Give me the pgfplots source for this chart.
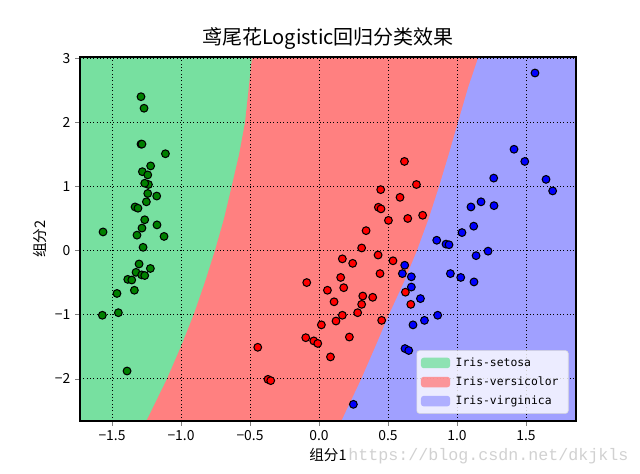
\documentclass[border=0pt]{standalone}
\usepackage{fontspec}
\setmainfont{Noto Sans CJK SC}
\newfontfamily\wmfont{Liberation Mono}
\newfontfamily\legfont{DejaVu Sans Mono}
\usepackage{pgfplots}
\usepackage{pgfplotstable}
\pgfplotsset{compat=1.18}
\definecolor{lg}{HTML}{77E0A0}
\definecolor{lr}{HTML}{FF8080}
\definecolor{lb}{HTML}{A0A0FF}
\definecolor{dg}{HTML}{008000}

\pgfplotstableread{
x y
-1.290 2.40
-1.268 2.22
-1.290 1.66
-1.283 1.66
-1.113 1.51
-1.220 1.32
-1.280 1.23
-1.241 1.18
-1.236 1.03
-1.263 1.05
-1.241 0.89
-1.176 0.85
-1.251 0.76
-1.333 0.68
-1.312 0.66
-1.263 0.48
-1.174 0.40
-1.283 0.35
-1.565 0.29
-1.319 0.24
-1.123 0.22
-1.275 0.05
-1.304 -0.21
-1.222 -0.28
-1.326 -0.34
-1.285 -0.38
-1.263 -0.39
-1.386 -0.45
-1.357 -0.46
-1.464 -0.67
-1.338 -0.62
-1.454 -0.97
-1.570 -1.01
-1.391 -1.88
}\setosa

\pgfplotstableread{
x y
0.619 1.39
0.706 1.03
0.447 0.95
0.587 0.83
0.430 0.675
0.449 0.65
0.503 0.47
0.643 0.50
0.751 0.55
0.341 0.31
0.309 0.04
0.169 -0.13
0.244 -0.20
0.428 -0.07
0.536 -0.16
0.157 -0.42
0.442 -0.36
-0.089 -0.50
0.061 -0.62
0.179 -0.58
0.317 -0.71
0.389 -0.73
0.109 -0.80
0.626 -0.65
0.309 -0.84
0.665 -0.84
0.280 -0.97
0.169 -1.01
0.123 -1.10
0.454 -1.09
0.017 -1.16
0.220 -1.35
-0.096 -1.36
-0.038 -1.41
-0.009 -1.45
0.083 -1.66
-0.444 -1.51
-0.370 -2.01
-0.350 -2.03
}\versicolor

\pgfplotstableread{
x y
1.565 2.77
1.413 1.58
1.491 1.39
1.266 1.13
1.645 1.11
1.693 0.93
1.174 0.76
1.101 0.68
1.268 0.70
1.121 0.38
1.036 0.28
0.853 0.16
0.920 0.10
0.942 0.09
1.225 -0.01
1.138 -0.08
0.621 -0.23
0.604 -0.36
0.669 -0.41
0.952 -0.36
1.027 -0.42
1.123 -0.49
0.669 -0.57
0.735 -0.75
0.860 -1.01
0.764 -1.09
0.681 -1.16
0.623 -1.53
0.650 -1.56
0.249 -2.40
}\virginica

\begin{document}
\begin{tikzpicture}
\path[use as bounding box] (-57.6pt,-37.44pt) rectangle (403.2pt,303.12pt);
\begin{axis}[
  at={(0,0)}, anchor=south west,
  scale only axis, width=357.1pt, height=262.1pt,
  xmin=-1.732, xmax=1.862, ymin=-2.66, ymax=3.02,
  xtick={-1.5,-1,-0.5,0,0.5,1,1.5},
  xticklabels={−1.5,−1.0,−0.5,0.0,0.5,1.0,1.5},
  ytick={-2,-1,0,1,2,3},
  yticklabels={−2,−1,0,1,2,3},
  tick label style={font=\fontsize{10}{12}\selectfont},
  tick align=outside, major tick length=3.5pt,
  xtick pos=left, ytick pos=left,
  axis on top,
  grid=major, grid style={black, dotted, line width=0.7pt},
  axis line style={line width=0.8pt},
  title={鸢尾花Logistic回归分类效果},
  title style={font=\fontsize{14.4}{16}\selectfont, yshift=-4.5pt},
  xlabel={组分1}, ylabel={组分2},
  label style={font=\fontsize{10.5}{12}\selectfont},
  xlabel style={yshift=2pt},
  ylabel style={yshift=-1pt},
  legend style={at={(0.985,0.02)}, anchor=south east,
    fill=white, fill opacity=0.8, text opacity=1, draw=black!15,
    rounded corners=2pt, font=\legfont\fontsize{8.2}{10}\selectfont,
    row sep=2pt, inner xsep=3pt, inner ysep=3pt,
    nodes={inner xsep=4pt}},
  legend cell align=left,
  legend image code/.code={\fill[#1] (0pt,-3.8pt) rectangle (21pt,3.8pt);},
]
\addplot[draw=none, fill=lg] coordinates {(-2,-3) (2,-3) (2,3.2) (-2,3.2)} -- cycle;
\addlegendentry{Iris-setosa}
\addplot[draw=none, fill=lr] coordinates {
(-1.29,-2.85) (-1.251,-2.66) (-1.101,-2) (-0.997,-1.48) (-0.908,-1) (-0.826,-0.49)
(-0.754,0) (-0.688,0.5) (-0.633,1) (-0.580,1.49) (-0.536,2) (-0.509,2.54) (-0.486,3.02) (-0.47,3.2)
(2,3.2) (2,-2.85)} -- cycle;
\addlegendentry{Iris-versicolor}
\addplot[draw=none, fill=lb] coordinates {
(0.12,-2.85) (0.162,-2.66) (0.307,-2) (0.408,-1.5) (0.507,-1) (0.614,-0.5)
(0.710,0) (0.795,0.5) (0.870,1) (0.940,1.5) (1.007,2) (1.080,2.54) (1.155,3.02) (1.18,3.2)
(2,3.2) (2,-2.85)} -- cycle;
\addlegendentry{Iris-virginica}
\addplot[only marks, mark=*, mark size=2.8pt, mark options={fill=dg, draw=black, line width=0.75pt}, forget plot] table {\setosa};
\addplot[only marks, mark=*, mark size=2.8pt, mark options={fill=red, draw=black, line width=0.75pt}, forget plot] table {\versicolor};
\addplot[only marks, mark=*, mark size=2.8pt, mark options={fill=blue, draw=black, line width=0.75pt}, forget plot] table {\virginica};
\end{axis}
\node[anchor=west, text=black!18, font=\wmfont\fontsize{12}{14}\selectfont, inner sep=0pt] at (193pt,-25.5pt) {https://blog.csdn.net/dkjkls};
\end{tikzpicture}
\end{document}
